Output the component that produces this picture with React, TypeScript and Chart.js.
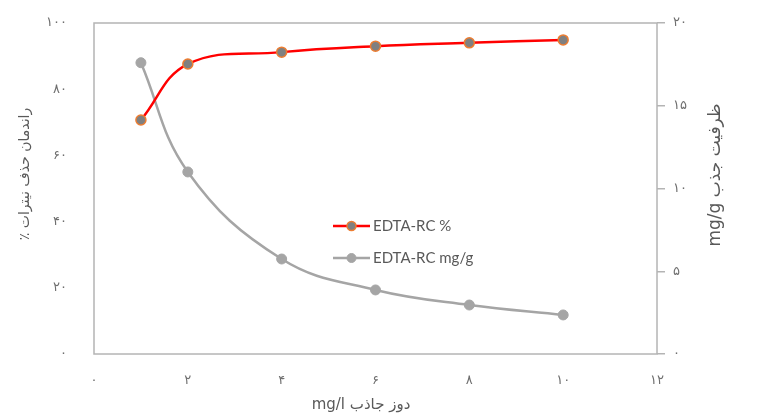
import React, { useEffect, useRef } from "react";
import { Chart, registerables } from "chart.js";

Chart.register(...registerables);

// ---- data ----
const dose = [1, 2, 4, 6, 8, 10];
const removalPercent = [70.7, 87.6, 91.2, 93.0, 94.0, 94.9];
const capacityMgG = [17.6, 11.0, 5.74, 3.87, 2.96, 2.36];

const seriesLabels = ["EDTA-RC %", "EDTA-RC mg/g"];
const xTitle = "دوز جاذب mg/l";
const yLeftTitle = "راندمان حذف نیترات ٪";
const yRightTitle = "ظرفیت جذب mg/g";

const faDigits = "۰۱۲۳۴۵۶۷۸۹";
const toFa = (v: number | string) =>
  String(v).replace(/\d/g, (d) => faDigits[Number(d)]);

const TICK_COLOR = "#6E6E6E";
const TITLE_COLOR = "#595959";
const BORDER_COLOR = "#B4B4B4";
const FONT = "'DejaVu Sans', 'Open Sans', sans-serif";

export default function App() {
  const ref = useRef<HTMLCanvasElement | null>(null);

  useEffect(() => {
    if (!ref.current) return;

    const framePlugin = {
      id: "frame",
      beforeDatasetsDraw(chart: any) {
        const { ctx, chartArea } = chart;
        ctx.save();
        ctx.strokeStyle = BORDER_COLOR;
        ctx.lineWidth = 1.5;
        ctx.strokeRect(
          chartArea.left,
          chartArea.top,
          chartArea.right - chartArea.left,
          chartArea.bottom - chartArea.top
        );
        ctx.restore();
      },
    };

    const overlayPlugin = {
      id: "overlay",
      afterDraw(chart: any) {
        const { ctx } = chart;
        ctx.save();
        ctx.fillStyle = TITLE_COLOR;
        ctx.textAlign = "center";
        ctx.textBaseline = "middle";
        // bottom title
        ctx.font = "15px " + FONT;
        ctx.direction = "rtl";
        ctx.fillText(xTitle, 361, 405);
        // left title (rotated -90)
        ctx.save();
        ctx.font = "14px " + FONT;
        ctx.translate(25, 174);
        ctx.rotate(-Math.PI / 2);
        ctx.direction = "rtl";
        ctx.fillText(yLeftTitle, 0, 0);
        ctx.restore();
        // right title (rotated -90)
        ctx.save();
        ctx.font = "17px " + FONT;
        ctx.translate(716, 175);
        ctx.rotate(-Math.PI / 2);
        ctx.direction = "rtl";
        ctx.fillText(yRightTitle, 0, 0);
        ctx.restore();

        // legend
        const ds = chart.data.datasets;
        const lx0 = 333;
        const lx1 = 370;
        const rows = [226, 258];
        ds.forEach((d: any, i: number) => {
          const y = rows[i];
          ctx.strokeStyle = d.borderColor;
          ctx.lineWidth = d.borderWidth;
          ctx.beginPath();
          ctx.moveTo(lx0, y);
          ctx.lineTo(lx1, y);
          ctx.stroke();
          ctx.beginPath();
          ctx.arc((lx0 + lx1) / 2, y, 4.5, 0, Math.PI * 2);
          ctx.fillStyle = d.pointBackgroundColor;
          ctx.fill();
          ctx.strokeStyle = d.pointBorderColor;
          ctx.lineWidth = d.pointBorderWidth;
          ctx.stroke();
          ctx.fillStyle = TITLE_COLOR;
          ctx.font = "15px Lato, 'Open Sans', sans-serif";
          ctx.textAlign = "left";
          ctx.direction = "ltr";
          ctx.fillText(d.label, 373, y);
        });
        ctx.restore();
      },
    };

    const chart = new Chart(ref.current, {
      type: "line",
      data: {
        datasets: [
          {
            label: seriesLabels[0],
            data: dose.map((x, i) => ({ x, y: removalPercent[i] })),
            yAxisID: "y",
            borderColor: "#FF0000",
            borderWidth: 2.5,
            pointBackgroundColor: "#808080",
            pointBorderColor: "#ED7D31",
            pointBorderWidth: 1.5,
            pointRadius: 5,
            tension: 0.4,
          },
          {
            label: seriesLabels[1],
            data: dose.map((x, i) => ({ x, y: capacityMgG[i] })),
            yAxisID: "y1",
            borderColor: "#A5A5A5",
            borderWidth: 2.5,
            pointBackgroundColor: "#A5A5A5",
            pointBorderColor: "#A5A5A5",
            pointBorderWidth: 1,
            pointRadius: 5,
            tension: 0.4,
          },
        ],
      },
      options: {
        responsive: false,
        animation: false,
        layout: { padding: { top: 23, left: 0, right: 0, bottom: 0 } },
        plugins: {
          legend: { display: false },
          tooltip: { enabled: false },
        },
        scales: {
          x: {
            type: "linear",
            min: 0,
            max: 12,
            grid: { display: false },
            border: { display: false },
            ticks: {
              stepSize: 2,
              color: TICK_COLOR,
              font: { size: 13, family: FONT },
              padding: 11,
              callback: (v: any) => toFa(v),
            },
            afterFit: (s: any) => {
              s.height = 62;
              s.paddingLeft = 0;
              s.paddingRight = 0;
            },
          },
          y: {
            position: "left",
            min: 0,
            max: 100,
            grid: { display: false },
            border: { display: false },
            ticks: {
              stepSize: 20,
              color: TICK_COLOR,
              font: { size: 13, family: FONT },
              padding: 19,
              callback: (v: any) => toFa(v),
            },
            afterFit: (s: any) => {
              s.width = 94;
              s.paddingTop = 0;
              s.paddingBottom = 0;
            },
          },
          y1: {
            position: "right",
            min: 0,
            max: 20,
            grid: {
              display: true,
              drawOnChartArea: false,
              drawTicks: true,
              tickLength: 8,
              color: BORDER_COLOR,
              lineWidth: 1.5,
            },
            border: { display: false },
            ticks: {
              stepSize: 5,
              color: TICK_COLOR,
              font: { size: 13, family: FONT },
              padding: 8,
              callback: (v: any) => toFa(v),
            },
            afterFit: (s: any) => {
              s.width = 121;
              s.paddingTop = 0;
              s.paddingBottom = 0;
            },
          },
        },
      },
      plugins: [framePlugin, overlayPlugin],
    } as any);

    return () => chart.destroy();
  }, []);

  return (
    <div style={{ position: "absolute", left: 0, top: 0, width: 778, height: 416, background: "#fff" }}>
      <canvas ref={ref} width={778} height={416} style={{ display: "block" }} />
    </div>
  );
}
